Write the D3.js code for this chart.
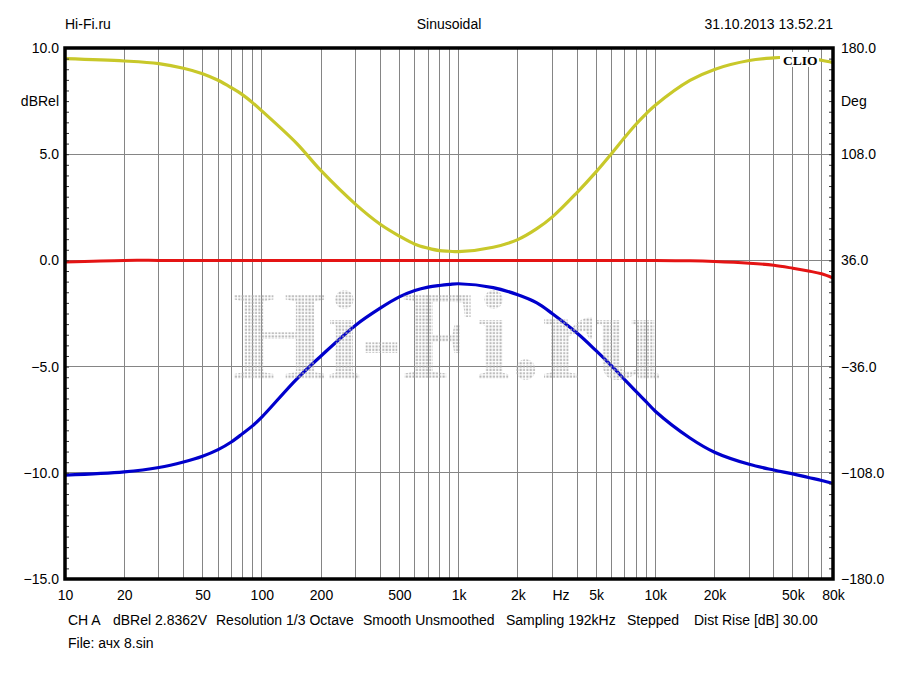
<!DOCTYPE html>
<html>
<head>
<meta charset="utf-8">
<script src="https://cdn.jsdelivr.net/npm/d3@7"></script>
<style>
body { margin: 0; background: #fff; }
text { font-family: Arial, "Liberation Sans", sans-serif; font-size: 14px; fill: #000; }
</style>
</head>
<body>
<svg id="chart" width="900" height="675"></svg>
<script>
// frequency points (Hz) the curves were read at
var freqs = [10, 20, 30, 40, 50, 60, 70, 80, 90, 100, 150, 200, 300, 400, 500, 600, 700, 800, 900,
    1000, 1500, 2000, 2500, 3000, 4000, 5000, 6000, 7000, 8000, 9000, 10000, 15000, 20000,
    30000, 40000, 50000, 60000, 70000, 80000];

// red curve, dBRel
var flatResp = [-0.07, 0, 0, 0, 0, 0, 0, 0, 0, 0, 0, 0, 0, 0, 0, 0, 0, 0, 0,
    0, 0, 0, 0, 0, 0, 0, 0, 0, 0, 0, -0.01, -0.02, -0.05,
    -0.13, -0.23, -0.37, -0.5, -0.63, -0.83];

// blue curve, dBRel
var bandResp = [-10.11, -9.96, -9.75, -9.49, -9.22, -8.91, -8.55, -8.15, -7.78, -7.38, -5.6, -4.5, -3.05, -2.25, -1.72, -1.42, -1.26, -1.18, -1.13,
    -1.1, -1.28, -1.62, -2.0, -2.51, -3.42, -4.25, -4.97, -5.62, -6.18, -6.66, -7.1, -8.36, -9.03,
    -9.6, -9.87, -10.05, -10.22, -10.36, -10.5];

// yellow curve, degrees (right axis)
var phaseDeg = [172.8, 171.2, 169.4, 166.3, 162.6, 158.1, 153.1, 148.2, 142.8, 137.4, 115.5, 96.8, 74.0, 60.5, 52.5, 47.0, 44.3, 42.6, 42.2,
    41.9, 44.9, 50.1, 57.5, 65.5, 82.0, 96.0, 108.5, 119.5, 128.5, 135.5, 141.2, 158.0, 165.5,
    171.5, 173.3, 173.9, 173.2, 171.7, 170.1];

var xTickValues = [10, 20, 50, 100, 200, 500, 1000, 2000, 3300, 5000, 10000, 20000, 50000, 80000];
var xTickLabels = ["10", "20", "50", "100", "200", "500", "1k", "2k", "Hz", "5k", "10k", "20k", "50k", "80k"];
var dbTicks = [10, 5, 0, -5, -10, -15];
var degTicks = [180, 108, 36, -36, -108, -180];
var dbGrid = [5, 0, -5, -10];

var svg = d3.select("#chart");

var x = d3.scaleLog().domain([10, 80000]).range([65, 833]);
var y = d3.scaleLinear().domain([-15, 10]).range([579, 48]);
var yDeg = d3.scaleLinear().domain([-180, 180]).range([579, 48]);

// grid
var grid = svg.append("g").attr("stroke", "#858585").attr("stroke-width", 1).attr("shape-rendering", "crispEdges");
grid.selectAll(".vg").data(x.ticks()).enter().append("line")
    .attr("x1", function(d){ return x(d); }).attr("x2", function(d){ return x(d); })
    .attr("y1", y(10)).attr("y2", y(-15));
grid.selectAll(".hg").data(dbGrid).enter().append("line")
    .attr("x1", x(10)).attr("x2", x(80000))
    .attr("y1", function(d){ return y(d); }).attr("y2", function(d){ return y(d); });

// curves
var lineDb = d3.line()
    .x(function(d){ return x(d[0]); })
    .y(function(d){ return y(d[1]); })
    .curve(d3.curveCatmullRom);
var lineDeg = d3.line()
    .x(function(d){ return x(d[0]); })
    .y(function(d){ return yDeg(d[1]); })
    .curve(d3.curveCatmullRom);

svg.append("path").datum(d3.zip(freqs, phaseDeg))
    .attr("fill", "none").attr("stroke", "#c8c82a").attr("stroke-width", 3.2)
    .attr("d", lineDeg);
svg.append("path").datum(d3.zip(freqs, flatResp))
    .attr("fill", "none").attr("stroke", "#e41414").attr("stroke-width", 3)
    .attr("d", lineDb);
svg.append("path").datum(d3.zip(freqs, bandResp))
    .attr("fill", "none").attr("stroke", "#0000cc").attr("stroke-width", 3.2)
    .attr("d", lineDb);

// dotted watermark
var defs = svg.append("defs");
var pat = defs.append("pattern").attr("id", "dots")
    .attr("patternUnits", "userSpaceOnUse")
    .attr("x", 0).attr("y", 0).attr("width", 3.35).attr("height", 3.35);
pat.append("rect").attr("x", 0.4).attr("y", 0.4).attr("width", 2).attr("height", 2).attr("fill", "#a8a8a8");

svg.append("text")
    .attr("x", 232).attr("y", 378)
    .attr("textLength", 431).attr("lengthAdjust", "spacingAndGlyphs")
    .style("font-family", "'Liberation Serif', 'Times New Roman', serif")
    .style("font-weight", "bold").style("font-size", "128px")
    .style("fill", "url(#dots)").style("opacity", 0.85)
    .text("Hi-Fi.ru");

// CLIO label
svg.append("rect").attr("x", 780).attr("y", 52).attr("width", 39).attr("height", 15).attr("fill", "#fff");
svg.append("text").attr("x", 783).attr("y", 65)
    .style("font-family", "'Liberation Serif', 'Times New Roman', serif")
    .style("font-weight", "bold").style("font-size", "13.5px")
    .text("CLIO");

// minor ticks
svg.append("g").attr("transform", "translate(" + x(10) + ",0)")
    .call(d3.axisRight(y).tickValues(d3.range(-15, 10.01, 0.5)).tickSize(4).tickFormat(""))
    .call(function(g){ g.select(".domain").remove(); g.selectAll("line").attr("stroke", "#333"); });
svg.append("g").attr("transform", "translate(" + x(80000) + ",0)")
    .call(d3.axisLeft(yDeg).tickValues(d3.range(-180, 180.01, 7.2)).tickSize(4).tickFormat(""))
    .call(function(g){ g.select(".domain").remove(); g.selectAll("line").attr("stroke", "#333"); });

// frame
svg.append("rect")
    .attr("x", x(10)).attr("y", y(10))
    .attr("width", x(80000) - x(10)).attr("height", y(-15) - y(10))
    .attr("fill", "none").attr("stroke", "#000").attr("stroke-width", 3.5);

// axis labels
function plain(g) {
    g.select(".domain").remove();
    g.selectAll("text").style("font-family", "Arial, 'Liberation Sans', sans-serif").style("font-size", "14px").attr("fill", "#000");
}
svg.append("g").attr("transform", "translate(" + x(10) + ",0)")
    .call(d3.axisLeft(y).tickValues(dbTicks).tickSize(0).tickPadding(6).tickFormat(d3.format(".1f")))
    .call(plain);
svg.append("g").attr("transform", "translate(" + x(80000) + ",0)")
    .call(d3.axisRight(yDeg).tickValues(degTicks).tickSize(0).tickPadding(8).tickFormat(d3.format(".1f")))
    .call(plain);
svg.append("g").attr("transform", "translate(0," + y(-15) + ")")
    .call(d3.axisBottom(x).tickValues(xTickValues).tickSize(0).tickPadding(11)
        .tickFormat(function(d, i){ return xTickLabels[i]; }))
    .call(plain);

svg.append("text").attr("x", x(10) - 6).attr("y", y(7.5)).attr("dy", "0.32em")
    .attr("text-anchor", "end").text("dBRel");
svg.append("text").attr("x", x(80000) + 8).attr("y", y(7.5)).attr("dy", "0.32em")
    .text("Deg");

// header
svg.append("text").attr("x", 65).attr("y", 29).text("Hi-Fi.ru");
svg.append("text").attr("x", 449).attr("y", 29).attr("text-anchor", "middle").text("Sinusoidal");
svg.append("text").attr("x", 833).attr("y", 29).attr("text-anchor", "end").text("31.10.2013 13.52.21");

// footer
var footItems = ["CH A", "dBRel 2.8362V", "Resolution 1/3 Octave", "Smooth Unsmoothed", "Sampling 192kHz", "Stepped", "Dist Rise [dB] 30.00"];
var footX = [68, 113, 216, 363, 506, 627, 694];
svg.selectAll(".foot").data(footItems).enter().append("text")
    .attr("x", function(d, i){ return footX[i]; }).attr("y", 625)
    .text(function(d){ return d; });
svg.append("text").attr("x", 68).attr("y", 648).text("File: ачх 8.sin");
</script>
</body>
</html>
